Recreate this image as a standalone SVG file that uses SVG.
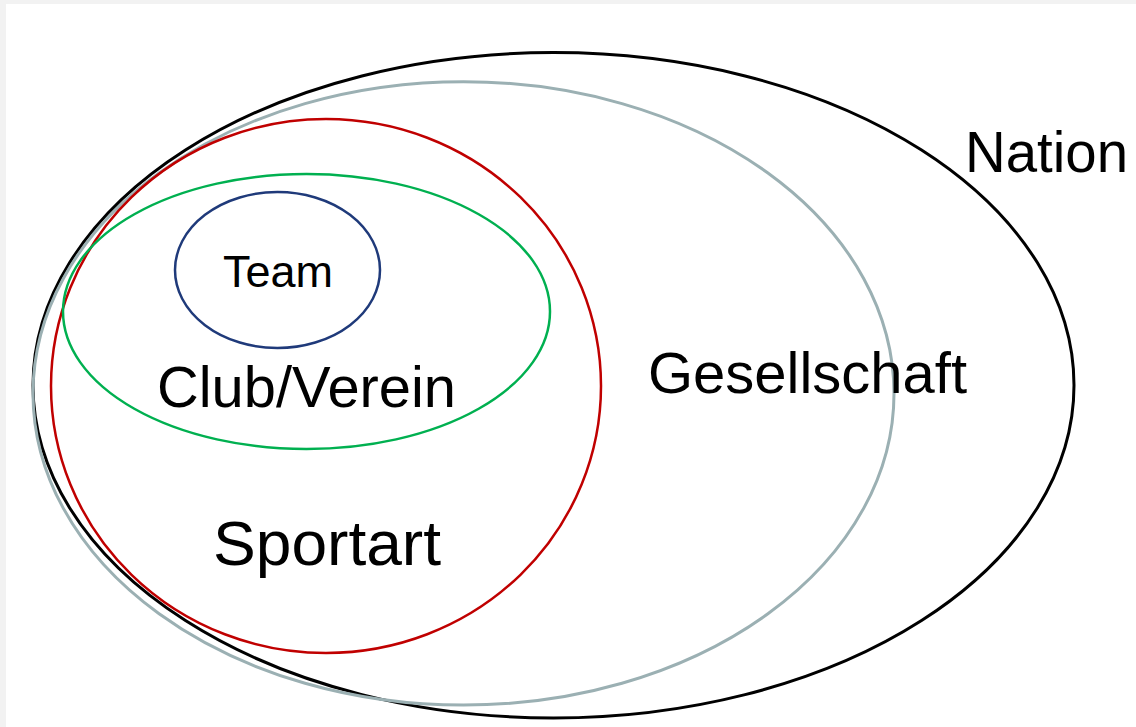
<svg xmlns="http://www.w3.org/2000/svg" width="1136" height="727" viewBox="0 0 1136 727">
  <style>
    .ring { fill: none; }
    .lbl { font-family: "Liberation Sans", Arial, sans-serif; fill: #000; }
  </style>
  <rect x="0" y="0" width="1136" height="727" fill="#f2f2f2"/>
  <rect x="6" y="4" width="1130" height="723" fill="#ffffff"/>
  <g id="nation">
    <ellipse class="ring" cx="553.5" cy="385.3" rx="520.5" ry="332.7" stroke="#000000" stroke-width="3"/>
    <text class="lbl" x="965" y="172" font-size="57" textLength="163" lengthAdjust="spacingAndGlyphs">Nation</text>
  </g>
  <g id="gesellschaft">
    <ellipse class="ring" cx="463.5" cy="393.4" rx="430.5" ry="311.7" stroke="#9bb0b3" stroke-width="3"/>
    <text class="lbl" x="648" y="393" font-size="58" textLength="319" lengthAdjust="spacingAndGlyphs">Gesellschaft</text>
  </g>
  <g id="sportart">
    <ellipse class="ring" cx="326" cy="386" rx="275" ry="267" stroke="#c00000" stroke-width="2.5"/>
    <text class="lbl" x="213" y="565" font-size="63" textLength="228" lengthAdjust="spacingAndGlyphs">Sportart</text>
  </g>
  <g id="club">
    <ellipse class="ring" cx="306.5" cy="311.5" rx="243.5" ry="137.5" stroke="#00b050" stroke-width="2.5"/>
    <text class="lbl" x="157" y="407" font-size="57" textLength="299" lengthAdjust="spacingAndGlyphs">Club/Verein</text>
  </g>
  <g id="team">
    <ellipse class="ring" cx="277.5" cy="270" rx="102.5" ry="78" stroke="#1f3a7a" stroke-width="2.5"/>
    <text class="lbl" x="223" y="287" font-size="44" textLength="110" lengthAdjust="spacingAndGlyphs">Team</text>
  </g>
  <g id="connectors"></g>
</svg>
